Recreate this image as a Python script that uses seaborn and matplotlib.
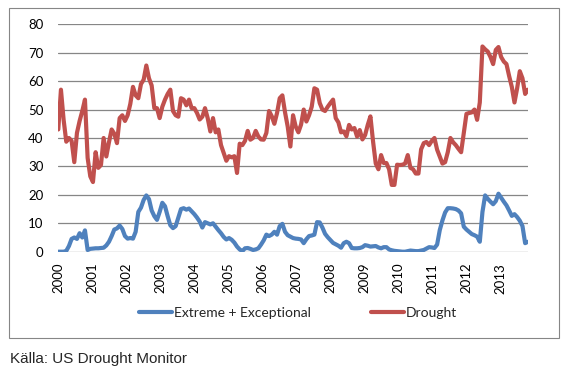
import numpy as np
import pandas as pd
import matplotlib
matplotlib.use('Agg')
import matplotlib.pyplot as plt
import seaborn as sns

# share of area (%), one reading about every 4 weeks, Jan 2000 - Oct 2013
extreme = [0, 0, 0, 0.3, 2, 4.5, 5, 4.5,
           6.5, 5, 7.5, 0.6, 1, 1.1, 1.2, 1.2,
           1.3, 1.4, 2.2, 3.5, 5.5, 7.8, 8.2, 9.2,
           8, 5.5, 4.6, 4.8, 4.6, 7, 14, 15.5,
           18.2, 19.8, 18.5, 14.5, 12.5, 11.2, 14, 17.2,
           16, 12.5, 9.3, 8.3, 9, 12, 15, 15.3,
           14.8, 15.2, 14.2, 13.2, 12, 10.6, 8.5, 10.4,
           10, 9.6, 10, 8.8, 7.6, 6.5, 5.2, 4.3,
           4.8, 4.2, 3.2, 1.8, 0.8, 0.2, 1.2, 1.3,
           1, 0.6, 0.8, 1.2, 2.5, 4, 6, 5.5,
           6, 7, 6, 9, 9.8, 7, 5.8, 5.3,
           4.8, 4.6, 4.5, 4.3, 3, 4.4, 5.5, 5.7,
           6, 10.4, 10.3, 8.5, 6.3, 5.1, 4.1, 3.1,
           2.6, 2.1, 1.4, 3, 3.5, 3, 1.3, 1.2,
           1.2, 1.3, 1.6, 2.3, 2.1, 1.8, 1.9, 2,
           1.5, 1.2, 1.6, 1.6, 0.8, 0.5, 0.3, 0.2,
           0.1, 0, 0, 0.2, 0.4, 0.3, 0.2, 0.2,
           0.4, 0.6, 1.1, 1.6, 1.5, 1.3, 2.5, 7.6,
           11, 13.8, 15.3, 15.3, 15.2, 15, 14.5, 13.5,
           8.8, 7.8, 7, 6.2, 5.8, 5.3, 3.5, 14,
           19.8, 18.6, 17.6, 16.7, 17.8, 20.4, 19, 17.6,
           16.3, 14.5, 12.6, 13.2, 12.2, 10.9, 9, 3,
           3.5]

drought = [43, 57, 46.4, 38.7, 40, 39, 31.5, 41.8,
           46, 49.5, 53.5, 33, 26.5, 24.5, 35, 29.5,
           30.5, 40, 33.5, 38.5, 43, 41.5, 38.2, 47,
           48, 46, 48, 52, 58, 55, 54, 59,
           60.5, 65.5, 61, 58.5, 50.5, 50.5, 47, 51,
           53.5, 55.5, 57, 49.5, 48, 47.5, 54, 53.5,
           51.5, 53.5, 50.5, 50.5, 48.8, 46.5, 47.5, 50.5,
           47, 42.3, 47, 42, 43, 37.5, 34.7, 32,
           33.6, 33.2, 33.6, 27.7, 38, 37.5, 39, 42.5,
           39.4, 40, 42.5, 40.5, 39.5, 39.4, 41.8, 49.5,
           47.7, 45, 48.8, 54, 55, 49, 44, 37,
           48, 44, 42, 44.7, 50, 45.8, 48, 51,
           57.5, 57, 52.3, 50, 49.5, 51, 52.3, 53.5,
           47, 45.5, 42, 42.3, 40.6, 44.6, 43, 43.5,
           40.5, 42.8, 39.5, 41, 44.6, 47.6, 38.7, 31,
           29, 34, 31.2, 31.2, 29, 23.5, 23.5, 30.6,
           30.5, 30.6, 31, 34, 29.5, 29, 27.5, 27.5,
           36, 38.2, 38.6, 37.5, 39, 40, 35.9, 33.5,
           31, 31.5, 35, 40, 38.5, 37.5, 36.2, 35,
           41.8, 48.5, 48.8, 49, 50, 46.4, 52.5, 72.2,
           71.2, 70.4, 68.5, 66, 71, 72, 68.5, 66.9,
           66, 61.8, 58, 52.5, 57.5, 63.5, 61, 55.5,
           57]

dates = pd.date_range('2000-01-04', '2013-10-22', periods=len(drought))
series_names = ['Extreme + Exceptional', 'Drought']
colors = ['#4F81BD', '#C0504D']
years = list(range(2000, 2014))
y_ticks = [0, 10, 20, 30, 40, 50, 60, 70, 80]
source = 'Källa: US Drought Monitor'


def plot_drought():
    df = pd.DataFrame({
        'Date': np.concatenate([dates, dates]),
        'Value': extreme + drought,
        'Series': np.repeat(series_names, len(dates)),
    })

    sns.set_style('white')
    plt.rcParams['font.family'] = ['Lato', 'DejaVu Sans']

    fig = plt.figure(figsize=(5.69, 3.72), dpi=100)
    ax = fig.add_axes([58 / 569, 1 - 251.7 / 372, 470 / 569, 227.4 / 372])

    sns.lineplot(data=df, x='Date', y='Value', hue='Series', hue_order=series_names,
                 palette=colors, linewidth=3.0, solid_joinstyle='round', ax=ax)

    ax.set_ylim(0, 80)
    ax.set_yticks(y_ticks)
    ax.set_xlim(pd.Timestamp('2000-01-01'), pd.Timestamp('2013-10-24'))
    ax.set_xticks([pd.Timestamp(f'{y}-01-01') for y in years])
    ax.set_xticklabels([str(y) for y in years], rotation=90)
    ax.set_xlabel('')
    ax.set_ylabel('')
    ax.tick_params(axis='both', length=0, labelsize=9.5, colors='black')
    ax.tick_params(axis='y', pad=10.6)
    ax.tick_params(axis='x', pad=8)
    ax.yaxis.grid(True, color='#868686', linewidth=0.9)
    ax.xaxis.grid(False)
    ax.set_axisbelow(True)
    for side in ax.spines:
        ax.spines[side].set_visible(False)

    handles, labels = ax.get_legend_handles_labels()
    ax.get_legend().remove()
    fig.legend(handles, labels, loc='center', bbox_to_anchor=(0.524, 0.159), ncol=2,
               frameon=False, fontsize=10, handlelength=2.4, handletextpad=0.15,
               columnspacing=4.3)

    # grey frame around the chart area, like the Excel chart border
    fig.add_artist(plt.Rectangle((9 / 569, 34 / 372), 550 / 569, 330 / 372,
                                 transform=fig.transFigure, fill=False,
                                 edgecolor='#868686', linewidth=0.8))

    fig.text(10 / 569, 1 - 359 / 372, source, family='Liberation Sans',
             fontsize=11, va='center')

    fig.savefig('out.png', dpi=100)


if __name__ == "__main__":
    plot_drought()
